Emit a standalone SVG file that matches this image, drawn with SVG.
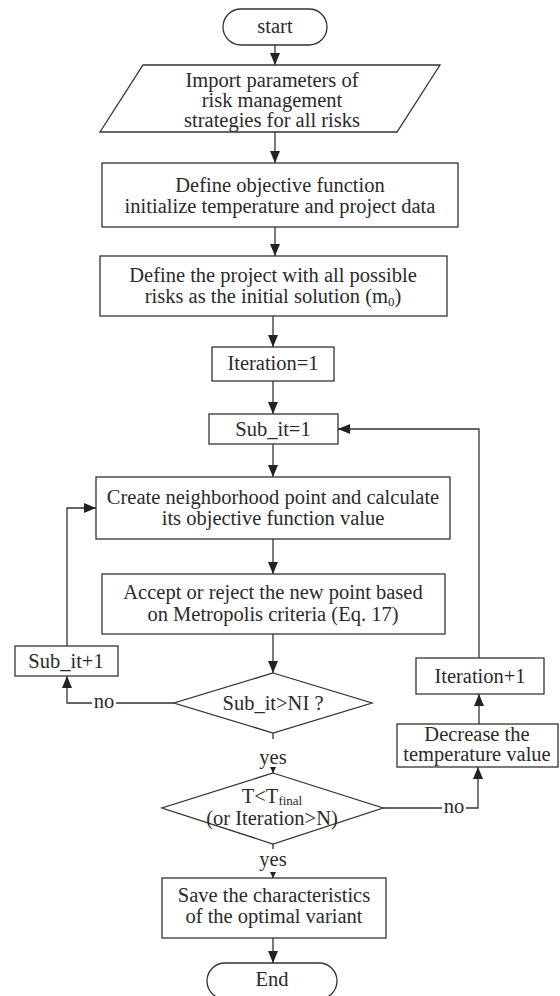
<svg xmlns="http://www.w3.org/2000/svg" width="560" height="996" viewBox="0 0 560 996">
<style>
.s{fill:#fff;stroke:#333;stroke-width:1.3}
.t{font-family:"Liberation Serif","Times New Roman",serif;font-size:20.5px;fill:#2a2a2a;text-anchor:middle}
.c{fill:none;stroke:#333;stroke-width:1.3}
.sub{font-size:13px}
</style>
<defs>
<marker id="a" markerUnits="userSpaceOnUse" markerWidth="12" markerHeight="10" refX="12" refY="5" orient="auto">
<path d="M0,0 L12,5 L0,10 z" fill="#222"/>
</marker>
<marker id="a2" markerUnits="userSpaceOnUse" markerWidth="6" markerHeight="6" refX="6" refY="3" orient="auto">
<path d="M0,0 L6,3 L0,6 z" fill="#222"/>
</marker>
</defs>
<rect width="560" height="996" fill="#fff"/>
<g id="connectors">
<path class="c" d="M275,45 V65" marker-end="url(#a)"/>
<path class="c" d="M275,132 V163" marker-end="url(#a)"/>
<path class="c" d="M275,227 V256" marker-end="url(#a)"/>
<path class="c" d="M273,316 V347" marker-end="url(#a)"/>
<path class="c" d="M273,381 V414" marker-end="url(#a)"/>
<path class="c" d="M273,444 V477" marker-end="url(#a)"/>
<path class="c" d="M273,539 V574" marker-end="url(#a)"/>
<path class="c" d="M273,634 V673" marker-end="url(#a)"/>
<path class="c" d="M174,703 H116 M92,703 H67 V676" marker-end="url(#a)"/>
<path class="c" d="M67,646 V508 H96" marker-end="url(#a)"/>
<path class="c" d="M273,733 V739"/>
<path class="c" d="M273,767 V773" marker-end="url(#a2)"/>
<path class="c" d="M383,808 H442 M466,808 H478 V767" marker-end="url(#a)"/>
<path class="c" d="M479,724 V694" marker-end="url(#a)"/>
<path class="c" d="M479,658 V429 H338" marker-end="url(#a)"/>
<path class="c" d="M273,844 V849"/>
<path class="c" d="M273,872 V878" marker-end="url(#a2)"/>
<path class="c" d="M273,938 V963" marker-end="url(#a)"/>
<text class="t" x="104" y="708">no</text>
<text class="t" x="454" y="813">no</text>
<text class="t" x="273" y="764">yes</text>
<text class="t" x="273" y="866">yes</text>
</g>
<g id="start">
<rect class="s" x="223" y="9" width="104" height="36" rx="18"/>
<text class="t" x="275" y="33">start</text>
</g>
<g id="import">
<polygon class="s" points="143,65 440,65 397,132 100,132"/>
<text class="t" x="272" y="87">Import parameters of</text>
<text class="t" x="272" y="107">risk management</text>
<text class="t" x="272" y="127">strategies for all risks</text>
</g>
<g id="define-objective">
<rect class="s" x="102" y="163" width="356" height="64"/>
<text class="t" x="280" y="192">Define objective function</text>
<text class="t" x="280" y="213">initialize temperature and project data</text>
</g>
<g id="define-project">
<rect class="s" x="100" y="256" width="347" height="60"/>
<text class="t" x="273" y="282">Define the project with all possible</text>
<text class="t" x="273" y="303">risks as the initial solution (m<tspan class="sub" dy="3">0</tspan><tspan dy="-3">)</tspan></text>
</g>
<g id="iteration1">
<rect class="s" x="212" y="347" width="122" height="34"/>
<text class="t" x="273" y="370">Iteration=1</text>
</g>
<g id="subit1">
<rect class="s" x="209" y="414" width="129" height="30"/>
<text class="t" x="273" y="436">Sub_it=1</text>
</g>
<g id="create">
<rect class="s" x="96" y="477" width="354" height="62"/>
<text class="t" x="273" y="504">Create neighborhood point and calculate</text>
<text class="t" x="273" y="525">its objective function value</text>
</g>
<g id="accept">
<rect class="s" x="102" y="574" width="343" height="60"/>
<text class="t" x="273" y="599">Accept or reject the new point based</text>
<text class="t" x="273" y="621">on Metropolis criteria (Eq. 17)</text>
</g>
<g id="subit-plus">
<rect class="s" x="15" y="646" width="103" height="30"/>
<text class="t" x="66" y="668">Sub_it+1</text>
</g>
<g id="check-subit">
<polygon class="s" points="273,673 372,703 273,733 174,703"/>
<text class="t" x="273" y="710">Sub_it&gt;NI ?</text>
</g>
<g id="iteration-plus">
<rect class="s" x="416" y="658" width="128" height="36"/>
<text class="t" x="480" y="683">Iteration+1</text>
</g>
<g id="decrease">
<rect class="s" x="397" y="724" width="161" height="43"/>
<text class="t" x="477" y="741">Decrease the</text>
<text class="t" x="477" y="761">temperature value</text>
</g>
<g id="check-temp">
<polygon class="s" points="273,773 383,808 273,844 162,808"/>
<text class="t" x="272" y="803">T&lt;T<tspan class="sub" dy="2">final</tspan></text>
<text class="t" x="272" y="825">(or Iteration&gt;N)</text>
</g>
<g id="save">
<rect class="s" x="162" y="878" width="224" height="60"/>
<text class="t" x="274" y="902">Save the characteristics</text>
<text class="t" x="274" y="923">of the optimal variant</text>
</g>
<g id="end">
<rect class="s" x="207" y="963" width="130" height="36" rx="18"/>
<text class="t" x="272" y="986">End</text>
</g>
</svg>
